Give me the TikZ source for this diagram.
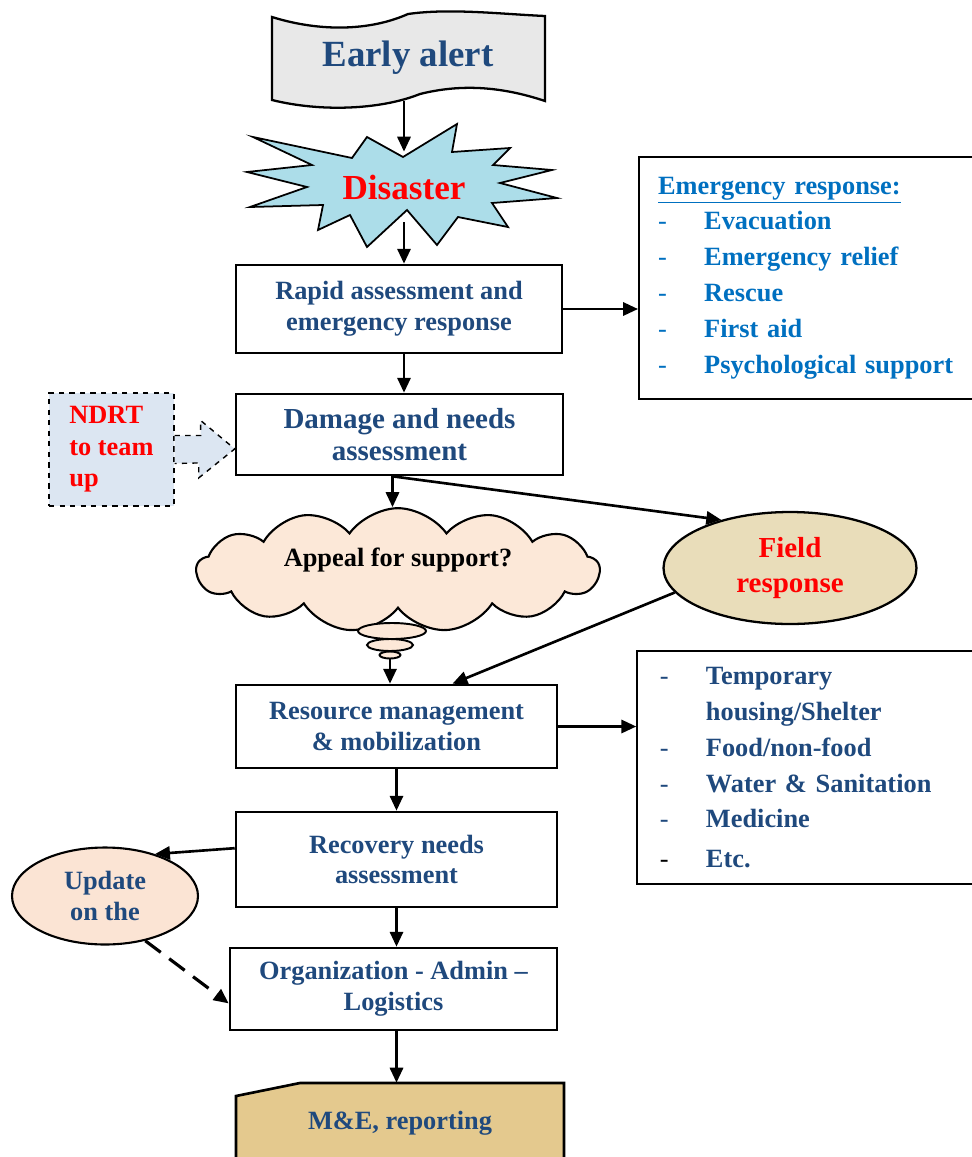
\documentclass[tikz,border=0pt]{standalone}
\usepackage{fontspec}
\setmainfont{Liberation Serif}
\usetikzlibrary{arrows.meta, shapes.geometric, shapes.symbols, calc}
\definecolor{ink}{RGB}{31,73,125}
\definecolor{erblue}{RGB}{0,112,192}
\definecolor{alertgray}{RGB}{232,232,232}
\definecolor{sky}{RGB}{172,221,233}
\definecolor{peach}{RGB}{252,232,216}
\definecolor{updpeach}{RGB}{251,228,212}
\definecolor{ndrtblue}{RGB}{220,230,242}
\definecolor{fieldtan}{RGB}{233,221,186}
\definecolor{parch}{RGB}{228,201,142}
\newcommand{\listrow}[1]{\makebox[26.2pt][l]{\mdseries -}#1}

\begin{document}
\begin{tikzpicture}[x=0.02cm, y=-0.02cm,
    stepbox/.style={draw, line width=1.5pt, fill=white, text=ink, align=center,
        font=\bfseries\fontsize{15}{17.6}\selectfont},
    listbox/.style={draw, line width=0.9pt, fill=white, align=left,
        font=\bfseries\fontsize{15}{20.4}\selectfont},
    arr/.style={-{Triangle[length=8.5pt,width=7.5pt]}, line width=1.5pt}]
    \useasboundingbox (0,0) rectangle (972,1157);
    \clip (0,0) rectangle (972,1157);

    \draw[line width=1.3pt, fill=alertgray] (272,17) .. controls (320,32) and (370,31) .. (408,14)
        .. controls (450,8) and (500,14) .. (545,16) -- (545,101)
        .. controls (500,86) and (460,84) .. (420,94) .. controls (380,110) and (320,112) .. (272,100) -- cycle;
    \node[text=ink, font=\bfseries\fontsize{21}{24}\selectfont, minimum height=1.72cm] (alert) at (408,58) {Early alert};

    \draw[line width=1pt, fill=sky] (253,137) -- (352,158) -- (367,137) -- (403,157) -- (457,124)
        -- (452,152) -- (510,148) -- (493,165) -- (552,170) -- (500,183) -- (557,198) -- (492,203)
        -- (508,227) -- (458,217) -- (437,245) -- (407,210) -- (367,247) -- (350,215) -- (318,230)
        -- (323,205) -- (250,207) -- (307,187) -- (247,172) -- (312,165) -- cycle;
    \node[text=red, font=\bfseries\fontsize{20}{24}\selectfont, minimum height=1.4cm] (disaster) at (404,187) {Disaster};

    \node[stepbox, minimum width=6.52cm, minimum height=1.76cm] (rapid) at (399,309) {Rapid assessment and\\emergency response};

    \node[listbox, text=erblue, inner xsep=11pt, text width=168.3pt, minimum height=4.84cm] (ersp) at (806,278)
        {\underline{Emergency response:}\\\listrow{Evacuation}\\\listrow{Emergency relief}\\\listrow{Rescue}\\\listrow{First aid}\\\listrow{Psychological support}};

    \node[stepbox, font=\bfseries\fontsize{16.5}{18.5}\selectfont, minimum width=6.54cm, minimum height=1.62cm] (damage) at (399.5,434.5) {Damage and needs\\assessment};

    \node[draw, dashed, line width=0.8pt, fill=ndrtblue, minimum width=2.5cm, minimum height=2.26cm, text=red, align=left,
        font=\bfseries\fontsize{15}{17.9}\selectfont] (ndrt) at (111.5,449.5) {NDRT\\to team\\up};
    \fill[ndrtblue] ($(ndrt.east)+(0,-14)$) -- ++(26,0) -- ++(0,-15) -- (damage.185) -- ++(-36,29) -- ++(0,-15) -- ($(ndrt.east)+(0,14)$) -- cycle;
    \draw[dashed, line width=0.8pt] ($(ndrt.east)+(0,-14)$) -- ++(26,0) -- ++(0,-15) -- (damage.185) -- ++(-36,29) -- ++(0,-15) -- ($(ndrt.east)+(0,14)$);

    \node[cloud, cloud puffs=13, cloud puff arc=110, aspect=5, draw, line width=1.2pt, fill=peach,
        minimum width=8.06cm, minimum height=1.6cm, text depth=14pt,
        font=\bfseries\fontsize{15}{17}\selectfont] (appeal) at (398,570) {Appeal for support?};
    \node[ellipse, draw, line width=1.1pt, fill=peach, minimum width=1.36cm, minimum height=0.32cm, inner sep=0pt] (tail1) at (392,631) {};
    \node[ellipse, draw, line width=1.1pt, fill=peach, minimum width=0.92cm, minimum height=0.24cm, inner sep=0pt] (tail2) at (390,645) {};
    \node[ellipse, draw, line width=1.1pt, fill=peach, minimum width=0.42cm, minimum height=0.14cm, inner sep=0pt] (tail3) at (390,655) {};

    \node[ellipse, draw, line width=1.3pt, fill=fieldtan, minimum width=5.06cm, minimum height=2.24cm, text=red, align=center,
        font=\bfseries\fontsize{16.5}{20}\selectfont] (field) at (790,568) {Field\\response};

    \node[stepbox, minimum width=6.42cm, minimum height=1.66cm] (resource) at (396.5,726.5) {Resource management\\\& mobilization};

    \node[listbox, text=ink, inner xsep=13pt, text width=168pt, minimum height=4.66cm] (supply) at (807.5,767.5)
        {\listrow{Temporary}\\\hspace*{26.2pt}housing/Shelter\\\listrow{Food/non-food}\\\listrow{Water \& Sanitation}\\\listrow{Medicine}\\[2pt]\makebox[26.2pt][l]{\mdseries\color{black}-}Etc.};

    \node[stepbox, minimum width=6.42cm, minimum height=1.9cm] (recovery) at (396.5,859.5) {Recovery needs\\assessment};

    \node[ellipse, draw, line width=1.2pt, fill=updpeach, minimum width=3.72cm, minimum height=1.94cm, text=ink, align=center,
        font=\bfseries\fontsize{15}{17.6}\selectfont] (update) at (105,896) {Update\\on the};

    \node[stepbox, minimum width=6.54cm, minimum height=1.64cm] (org) at (393.5,989) {Organization - Admin --\\Logistics};

    \draw[line width=1.5pt, fill=parch] (236,1096) -- (300,1083) -- (564,1083) -- (564,1175) -- (236,1175) -- cycle;
    \node[text=ink, font=\bfseries\fontsize{15}{17.6}\selectfont, minimum height=1.6cm] (mande) at (400,1123) {M\&E, reporting};

    \coordinate (dmgout) at ($(damage.south)+(-7,0)$);
    \draw[arr] (disaster.north |- alert.south) -- (disaster.north);
    \draw[arr] (disaster.south) -- (disaster.south |- rapid.north);
    \draw[arr] (rapid.east) -- (rapid.east -| ersp.west);
    \draw[arr] (disaster.south |- rapid.south) -- (disaster.south |- damage.north);
    \draw[arr] (dmgout) -- (dmgout |- appeal.north);
    \draw[arr] (dmgout) -- (field.145);
    \draw[arr] (tail3.south) -- (tail3.south |- resource.north);
    \draw[arr] (field.192) -- ($(resource.north)+(56,0)$);
    \draw[arr] (resource.east) -- (resource.east -| supply.west);
    \draw[arr] (resource.south) -- (resource.south |- recovery.north);
    \draw[arr] (recovery.176) -- (update.40);
    \draw[arr] (recovery.south) -- (recovery.south |- org.north);
    \draw[arr, line width=1.8pt, dash pattern=on 11pt off 6pt] (update.312) -- (org.185);
    \draw[arr] (recovery.south |- org.south) -- (recovery.south |- mande.north);

\end{tikzpicture}
\end{document}
